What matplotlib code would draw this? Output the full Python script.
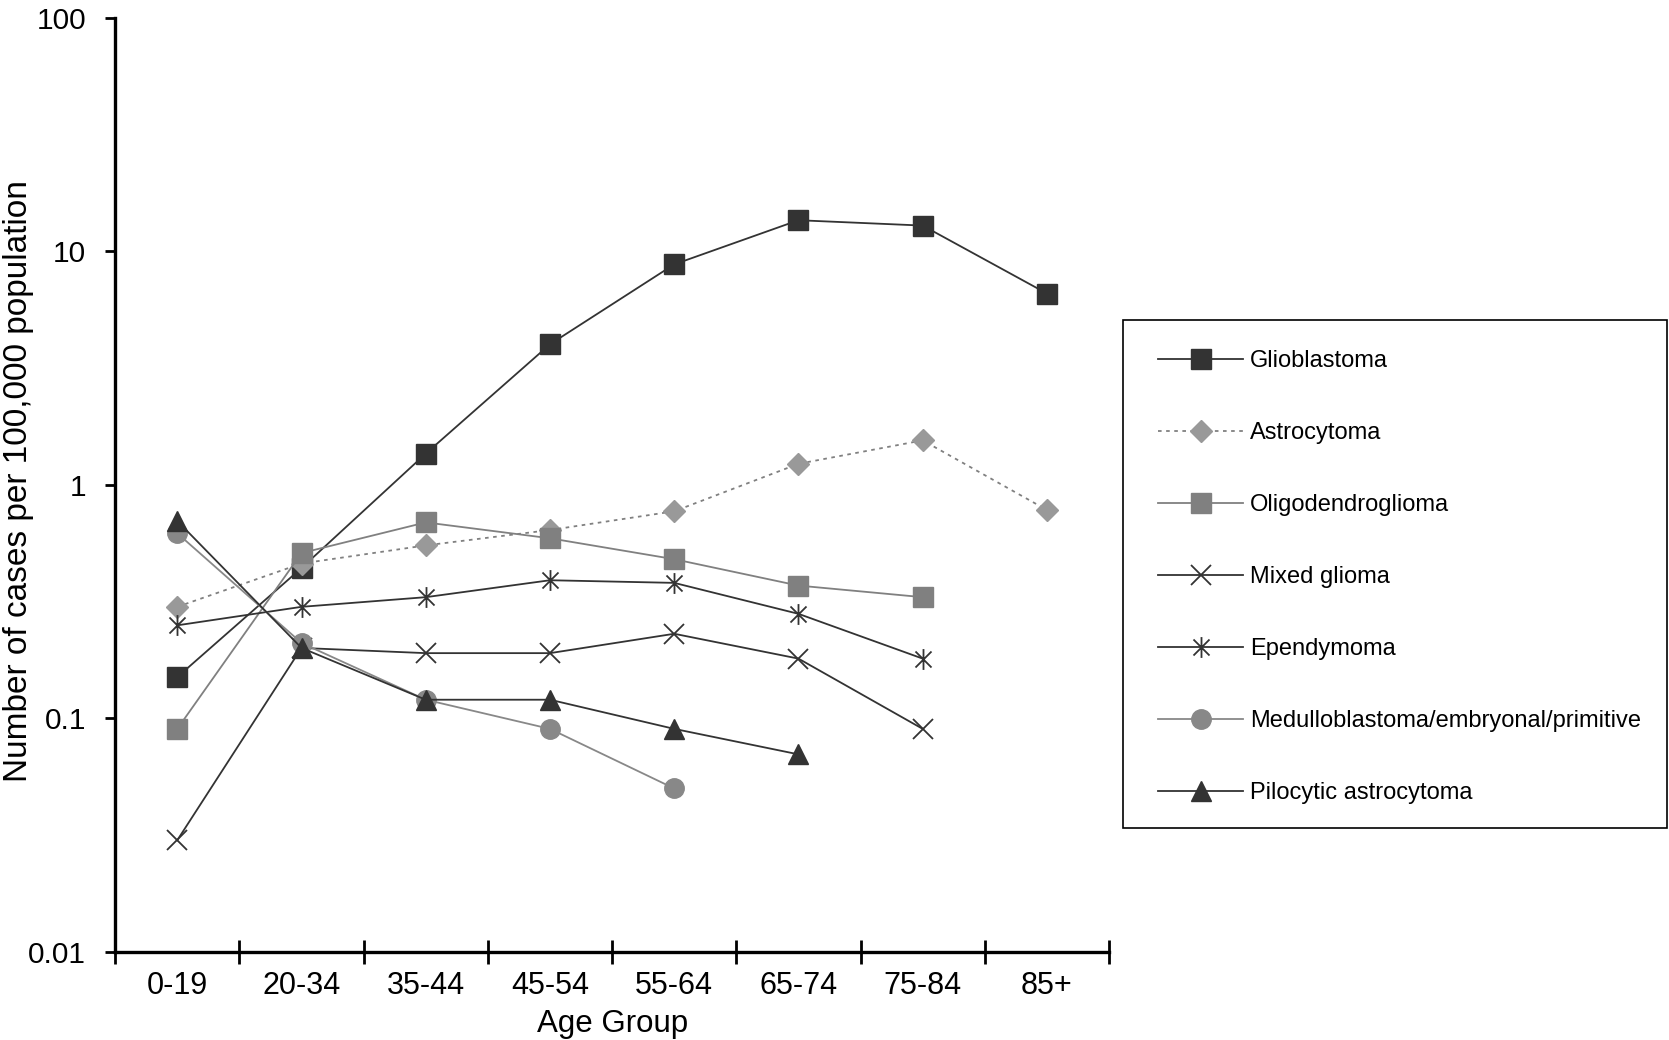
import matplotlib
matplotlib.use('Agg')
import matplotlib.pyplot as plt
from matplotlib.path import Path
from matplotlib.patches import Rectangle
from matplotlib.ticker import FixedLocator, NullFormatter, NullLocator

plt.rcParams['font.family'] = ['Liberation Sans', 'DejaVu Sans']

age_groups = ['0-19', '20-34', '35-44', '45-54', '55-64', '65-74', '75-84', '85+']

glioblastoma = [0.15, 0.44, 1.36, 4.0, 8.8, 13.6, 12.9, 6.6]
astrocytoma = [0.30, 0.46, 0.55, 0.64, 0.77, 1.23, 1.55, 0.78]
oligodendroglioma = [0.09, 0.51, 0.69, 0.59, 0.48, 0.37, 0.33]
mixed_glioma = [0.03, 0.20, 0.19, 0.19, 0.23, 0.18, 0.09]
ependymoma = [0.25, 0.30, 0.33, 0.39, 0.38, 0.28, 0.18]
medulloblastoma = [0.62, 0.21, 0.12, 0.09, 0.05]
pilocytic = [0.70, 0.20, 0.12, 0.12, 0.09, 0.07]

y_ticks = [0.01, 0.1, 1, 10, 100]
y_tick_labels = ['0.01', '0.1', '1', '10', '100']

# excel style asterisk: X plus a vertical bar
asterisk = Path([(-1, -1), (1, 1), (-1, 1), (1, -1), (0, -1.3), (0, 1.3)],
                [Path.MOVETO, Path.LINETO, Path.MOVETO, Path.LINETO,
                 Path.MOVETO, Path.LINETO])

dark = '#333333'
grey = '#808080'
light = '#999999'

series = [
    ('Glioblastoma', glioblastoma, dict(color=dark, marker='s', ms=15, ls='-')),
    ('Astrocytoma', astrocytoma, dict(color=grey, marker='D', mfc=light, mec=light, ms=11, ls=(0, (2, 2.5)))),
    ('Oligodendroglioma', oligodendroglioma, dict(color=grey, marker='s', ms=15, ls='-')),
    ('Mixed glioma', mixed_glioma, dict(color=dark, marker='x', ms=15, mew=1.3, ls='-')),
    ('Ependymoma', ependymoma, dict(color=dark, marker=asterisk, ms=15, mew=1.3, ls='-')),
    ('Medulloblastoma/embryonal/primitive', medulloblastoma, dict(color='#888888', marker='o', ms=14, ls='-')),
    ('Pilocytic astrocytoma', pilocytic, dict(color=dark, marker='^', ms=15, ls='-')),
]

W, H = 1669, 1040
fig = plt.figure(figsize=(W / 100, H / 100), dpi=100)
ax = fig.add_axes([0.069, 0.085, 0.5955, 0.8977])

for name, vals, style in series:
    ax.plot(range(len(vals)), vals, label=name, lw=1.3, **style)

ax.set_yscale('log')
ax.set_ylim(0.01, 100)
ax.set_xlim(-0.5, len(age_groups) - 0.5)

ax.yaxis.set_major_locator(FixedLocator(y_ticks))
ax.yaxis.set_minor_locator(NullLocator())
ax.set_yticklabels(y_tick_labels)
ax.yaxis.set_minor_formatter(NullFormatter())

ax.set_xticks(range(len(age_groups)))
ax.set_xticklabels(age_groups)
ax.set_xticks([i - 0.5 for i in range(len(age_groups) + 1)], minor=True)
ax.tick_params(axis='x', which='major', length=0, pad=14, labelsize=22)
ax.tick_params(axis='x', which='minor', direction='inout', length=17, width=2)
ax.tick_params(axis='y', which='major', direction='out', length=7, width=2, labelsize=21.5, pad=14)

for side in ['top', 'right']:
    ax.spines[side].set_visible(False)
for side in ['left', 'bottom']:
    ax.spines[side].set_linewidth(2.4)

ax.set_xlabel('Age Group', fontsize=22.5, labelpad=6)
ax.set_ylabel('Number of cases per 100,000 population', fontsize=24)
ax.yaxis.set_label_coords(-0.0815, 0.5035)

# legend box drawn separately so the content can sit freely inside it
box_x0, box_x1 = 1123 / W, 1667 / W
box_y0, box_y1 = 1 - 828 / H, 1 - 320 / H
fig.patches.append(Rectangle((box_x0, box_y0), box_x1 - box_x0, box_y1 - box_y0,
                             transform=fig.transFigure, fill=False,
                             edgecolor='black', lw=1.2))

fig.legend(loc='upper left', bbox_to_anchor=(1158 / W, 1 - 350 / H), fontsize=17,
           frameon=False, handlelength=3.6, handletextpad=0.3, labelspacing=2.12,
           borderpad=0, borderaxespad=0)

fig.savefig('out.png', dpi=100)
